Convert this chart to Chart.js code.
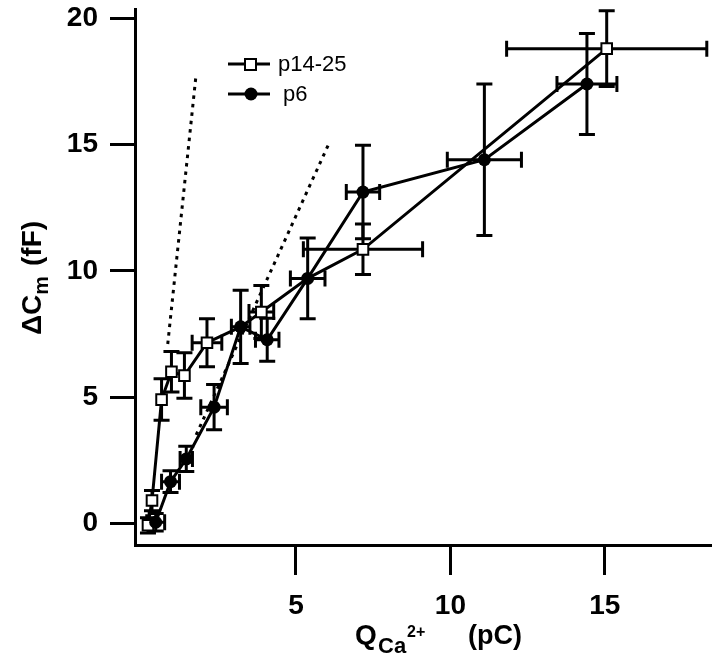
<!DOCTYPE html>
<html><head><meta charset="utf-8">
<script src="https://cdn.jsdelivr.net/npm/chart.js@4.4.0/dist/chart.umd.min.js"></script>
<style>html,body{margin:0;padding:0;background:#fff;}#wrap{width:720px;height:662px;}</style>
</head><body><div id="wrap"><canvas id="c" width="720" height="662"></canvas></div>
<script>
// ---- data ----
const xTicks = [5, 10, 15];
const yTicks = [0, 5, 10, 15, 20];

const seriesNames = ['p14-25', 'p6'];

// p14-25 (open squares); null error = point hidden under a p6 marker
const adultX    = [0.21, 0.34, 0.65, 0.97, 1.39, 2.12, 3.21, 3.88, 5.38, 7.17, 15.06];
const adultY    = [-0.08, 0.9, 4.9, 6.0, 5.85, 7.15, 7.78, 8.37, 9.7, 10.85, 18.8];
const adultXErr = [0, 0, 0, 0, 0, 0.48, null, 0.4, null, 1.93, 3.24];
const adultYErr = [0.3, 0.4, 0.82, 0.8, 0.9, 0.95, null, 1.05, null, 1.0, 1.5];

// p6 (filled circles)
const p6X    = [0.46, 0.94, 1.45, 2.35, 3.21, 4.07, 5.38, 7.17, 11.1, 14.42];
const p6Y    = [0.04, 1.65, 2.55, 4.6, 7.78, 7.27, 9.7, 13.12, 14.4, 17.4];
const p6XErr = [0.29, 0.29, 0.2, 0.43, 0.3, 0.38, 0.56, 0.54, 1.2, 0.97];
const p6YErr = [0.35, 0.43, 0.5, 0.9, 1.45, 0.85, 1.6, 1.85, 3.0, 2.0];

// dotted reference lines
const fitAX = [0.85, 1.77];
const fitAY = [7.1, 17.8];
const fitBX = [1.77, 6.09];
const fitBY = [3.5, 15.1];

// ---- build ----
const pts = (xs, ys) => xs.map((x, i) => ({x: x, y: ys[i]}));
const FONT = '"Liberation Sans", Arial, Helvetica, sans-serif';

const errorBars = {
  id: 'errorBars',
  beforeDatasetsDraw(chart) {
    const ctx = chart.ctx, xs = chart.scales.x, ys = chart.scales.y;
    const cap = 8;
    const sets = [[adultX, adultY, adultXErr, adultYErr], [p6X, p6Y, p6XErr, p6YErr]];
    ctx.save();
    ctx.strokeStyle = '#000';
    ctx.lineWidth = 3;
    ctx.lineCap = 'butt';
    for (const [X, Y, XE, YE] of sets) {
      for (let i = 0; i < X.length; i++) {
        const px = xs.getPixelForValue(X[i]);
        const py = ys.getPixelForValue(Y[i]);
        if (YE[i]) {
          const t = ys.getPixelForValue(Y[i] + YE[i]);
          const b = ys.getPixelForValue(Y[i] - YE[i]);
          ctx.beginPath();
          ctx.moveTo(px, t); ctx.lineTo(px, b);
          ctx.moveTo(px - cap, t); ctx.lineTo(px + cap, t);
          ctx.moveTo(px - cap, b); ctx.lineTo(px + cap, b);
          ctx.stroke();
        }
        if (XE[i]) {
          const l = xs.getPixelForValue(X[i] - XE[i]);
          const r = xs.getPixelForValue(X[i] + XE[i]);
          ctx.beginPath();
          ctx.moveTo(l, py); ctx.lineTo(r, py);
          ctx.moveTo(l, py - cap); ctx.lineTo(l, py + cap);
          ctx.moveTo(r, py - cap); ctx.lineTo(r, py + cap);
          ctx.stroke();
        }
      }
    }
    ctx.restore();
  }
};

const decorations = {
  id: 'decorations',
  afterDraw(chart) {
    const ctx = chart.ctx;
    ctx.save();
    ctx.fillStyle = '#000';
    ctx.strokeStyle = '#000';
    ctx.textBaseline = 'alphabetic';
    ctx.textAlign = 'left';
    // x title: Q_Ca^2+ (pC)
    const bx = 644;
    ctx.font = 'bold 28px ' + FONT; ctx.fillText('Q', 355, bx);
    ctx.font = 'bold 22px ' + FONT; ctx.fillText('Ca', 378, bx + 9);
    ctx.font = 'bold 16px ' + FONT; ctx.fillText('2+', 407, bx - 7);
    ctx.font = 'bold 27px ' + FONT; ctx.fillText('(pC)', 468, bx);
    // y title: ΔC_m (fF), rotated
    ctx.save();
    ctx.translate(41, 274);
    ctx.rotate(-Math.PI / 2);
    ctx.font = 'bold 28px ' + FONT;
    let x0 = -61;
    ctx.fillText('\u0394C', x0, 0);
    x0 += ctx.measureText('\u0394C').width;
    ctx.font = 'bold 21px ' + FONT;
    ctx.fillText('m', x0, 7);
    x0 += ctx.measureText('m').width + 10;
    ctx.font = 'bold 28px ' + FONT;
    ctx.fillText('(fF)', x0, 0);
    ctx.restore();
    // legend
    ctx.lineWidth = 3;
    ctx.beginPath(); ctx.moveTo(228, 64); ctx.lineTo(270, 64); ctx.stroke();
    ctx.beginPath(); ctx.moveTo(228, 94); ctx.lineTo(270, 94); ctx.stroke();
    ctx.fillStyle = '#fff'; ctx.lineWidth = 2;
    ctx.fillRect(245, 59, 11, 11); ctx.strokeRect(245, 59, 11, 11);
    ctx.fillStyle = '#000';
    ctx.beginPath(); ctx.arc(251, 94, 6.5, 0, Math.PI * 2); ctx.fill();
    ctx.font = '22px ' + FONT;
    ctx.textBaseline = 'middle';
    ctx.fillText(seriesNames[0], 278, 65);
    ctx.fillText(seriesNames[1], 283, 95);
    ctx.restore();
  }
};

const axisCommon = {
  type: 'linear',
  grid: {display: true, drawOnChartArea: false, drawTicks: true, lineWidth: 3, color: '#000'},
  border: {display: true, width: 3, color: '#000'},
  ticks: {color: '#000', font: {family: FONT, size: 28, weight: 'bold'}}
};

new Chart(document.getElementById('c'), {
  type: 'scatter',
  data: {
    datasets: [
      {label: seriesNames[0], data: pts(adultX, adultY), showLine: true, order: 2,
       borderColor: '#000', borderWidth: 3, pointStyle: 'rect',
       pointRadius: (c) => adultYErr[c.dataIndex] === null ? 0 : 7.5,
       pointBackgroundColor: '#fff', pointBorderColor: '#000', pointBorderWidth: 2},
      {label: seriesNames[1], data: pts(p6X, p6Y), showLine: true, order: 1,
       borderColor: '#000', borderWidth: 3, pointStyle: 'circle', pointRadius: 6.5,
       pointBackgroundColor: '#000', pointBorderColor: '#000', pointBorderWidth: 0},
      {label: 'fitA', data: pts(fitAX, fitAY), showLine: true, order: 3,
       borderColor: '#000', borderWidth: 3, borderDash: [3.5, 5], pointRadius: 0},
      {label: 'fitB', data: pts(fitBX, fitBY), showLine: true, order: 3,
       borderColor: '#000', borderWidth: 3, borderDash: [3.5, 5], pointRadius: 0}
    ]
  },
  options: {
    responsive: false, animation: false, devicePixelRatio: 1,
    layout: {padding: {top: 5, right: 2, left: 0, bottom: 0}},
    plugins: {legend: {display: false}, tooltip: {enabled: false}},
    scales: {
      x: Object.assign({}, axisCommon, {
        min: -0.21, max: 18.42,
        grid: Object.assign({}, axisCommon.grid, {tickLength: 30}),
        ticks: Object.assign({}, axisCommon.ticks, {padding: 14}),
        afterBuildTicks: (s) => { s.ticks = xTicks.map(v => ({value: v})); },
        afterFit: (s) => { s.height = 117; s.paddingLeft = 0; s.paddingRight = 0; }
      }),
      y: Object.assign({}, axisCommon, {
        min: -0.86, max: 20.35,
        grid: Object.assign({}, axisCommon.grid, {tickLength: 25}),
        ticks: Object.assign({}, axisCommon.ticks, {padding: 12}),
        afterBuildTicks: (s) => { s.ticks = yTicks.map(v => ({value: v})); },
        afterFit: (s) => { s.width = 135; s.paddingTop = 0; s.paddingBottom = 0; }
      })
    }
  },
  plugins: [errorBars, decorations]
});
</script></body></html>
